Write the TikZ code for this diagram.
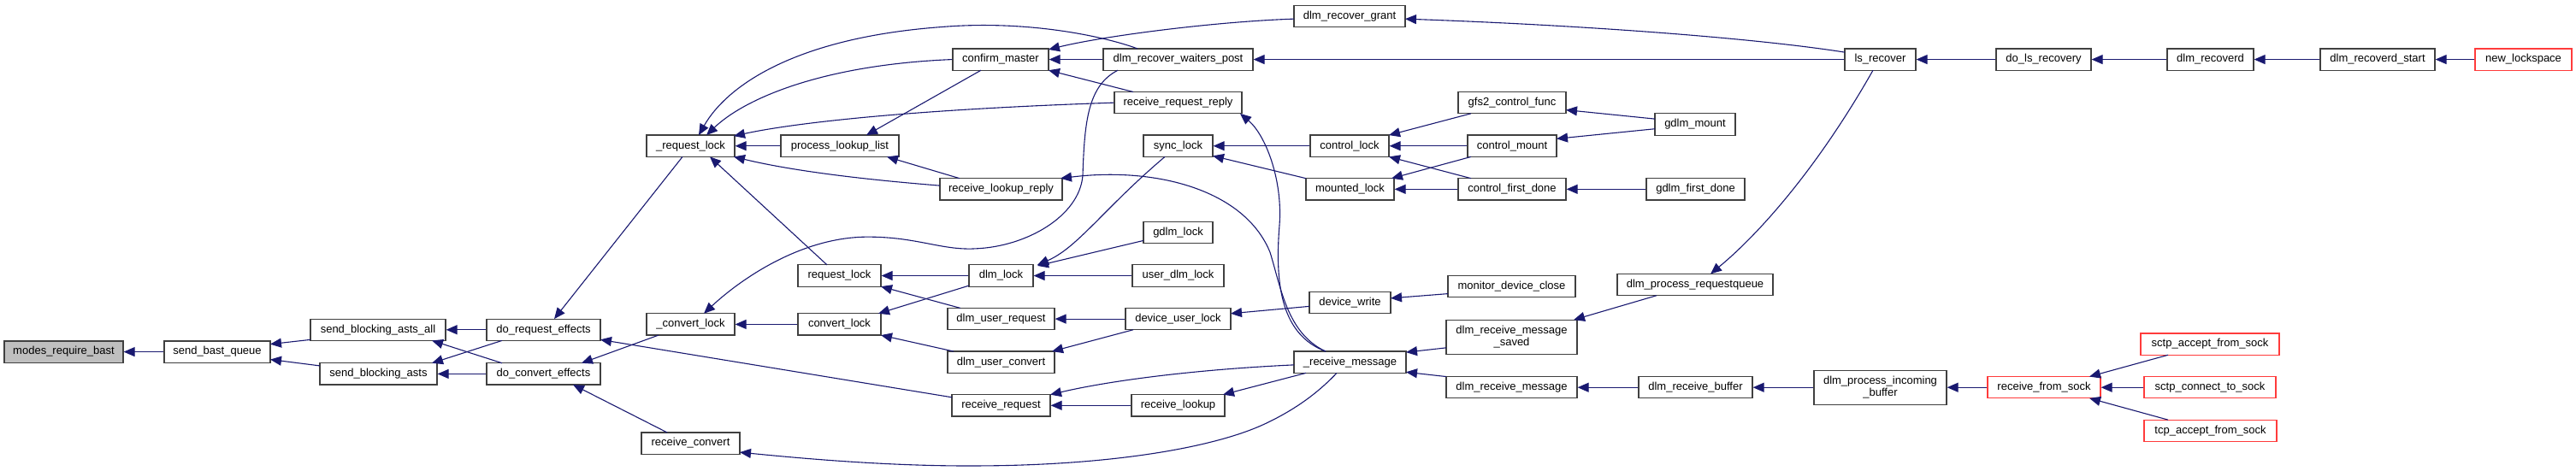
\documentclass[tikz,border=0pt]{standalone}
\usepackage{fontspec}
\setmainfont{Liberation Sans}
\usetikzlibrary{arrows.meta,calc}
\definecolor{edgec}{HTML}{191970}
\definecolor{boxc}{HTML}{404040}
\definecolor{redc}{HTML}{FF3B3B}
\definecolor{grayf}{HTML}{BFBFBF}
\begin{document}
\begin{tikzpicture}[x=1pt,y=-1.054pt,
  box/.style={draw=boxc, line width=1.2pt, fill=white, rectangle, inner sep=0pt,
    minimum height=25.3pt, font=\fontsize{13}{14.5}\selectfont, align=center},
  rbox/.style={box, draw=redc},
  edge/.style={draw=edgec, line width=1.1pt, arrows={Triangle[length=13pt,width=11pt]-}}]
\useasboundingbox (0,0) rectangle (3012,522.77);
% nodes
\node[box, fill=grayf, minimum width=139pt] (mrb) at (74.5,390.5) {modes\_require\_bast};
\node[box, minimum width=124pt] (sbq) at (254,390.5) {send\_bast\_queue};
\node[box, minimum width=158pt] (sbaa) at (442,366) {send\_blocking\_asts\_all};
\node[box, minimum width=137pt] (sba) at (442.5,415) {send\_blocking\_asts};
\node[box, minimum width=133pt] (dre) at (635.5,366) {do\_request\_effects};
\node[box, minimum width=133pt] (dce) at (635.5,415) {do\_convert\_effects};
\node[box, minimum width=103pt] (rql) at (807.5,162) {\_request\_lock};
\node[box, minimum width=103pt] (cvl) at (807.5,360) {\_convert\_lock};
\node[box, minimum width=115pt] (rcv) at (807.5,492) {receive\_convert};
\node[box, minimum width=138pt] (pll) at (982,162) {process\_lookup\_list};
\node[box, minimum width=97pt] (reql) at (981.5,306) {request\_lock};
\node[box, minimum width=97pt] (cnl) at (981.5,360) {convert\_lock};
\node[box, minimum width=112pt] (cm) at (1170,66) {confirm\_master};
\node[box, minimum width=175pt] (drwp) at (1377.5,66) {dlm\_recover\_waiters\_post};
\node[box, minimum width=149pt] (rrr) at (1377.5,114) {receive\_request\_reply};
\node[box, minimum width=81pt] (syl) at (1377.5,162) {sync\_lock};
\node[box, minimum width=143pt] (rlr) at (1170.5,210) {receive\_lookup\_reply};
\node[box, minimum width=81pt] (gdl) at (1377.5,258) {gdlm\_lock};
\node[box, minimum width=75pt] (dl) at (1170.5,306) {dlm\_lock};
\node[box, minimum width=107pt] (udl) at (1377.5,306) {user\_dlm\_lock};
\node[box, minimum width=125pt] (dur) at (1170.5,354) {dlm\_user\_request};
\node[box, minimum width=123pt] (dul) at (1377.5,354) {device\_user\_lock};
\node[box, minimum width=125pt] (duc) at (1170.5,402) {dlm\_user\_convert};
\node[box, minimum width=115pt] (rr) at (1170.5,450) {receive\_request};
\node[box, minimum width=109pt] (rl) at (1377.5,450) {receive\_lookup};
\node[box, minimum width=130pt] (drg) at (1578,18) {dlm\_recover\_grant};
\node[box, minimum width=126pt] (gcf) at (1768,114) {gfs2\_control\_func};
\node[box, minimum width=92pt] (cl) at (1578,162) {control\_lock};
\node[box, minimum width=104pt] (cmt) at (1768,162) {control\_mount};
\node[box, minimum width=94pt] (gm) at (1982,138) {gdlm\_mount};
\node[box, minimum width=103pt] (ml) at (1578.5,210) {mounted\_lock};
\node[box, minimum width=126pt] (cfd) at (1768,210) {control\_first\_done};
\node[box, minimum width=115pt] (gfd) at (1982.5,210) {gdlm\_first\_done};
\node[box, minimum width=149pt] (mdc) at (1767.5,318) {monitor\_device\_close};
\node[box, minimum width=95pt] (dw) at (1578.5,336) {device\_write};
\node[box, minimum width=182pt] (dprq) at (1982,316) {dlm\_process\_requestqueue};
\node[box, minimum width=153pt, minimum height=40pt] (drms) at (1767.5,374) {dlm\_receive\_message\\\_saved};
\node[box, minimum width=131pt] (rm) at (1578.5,402) {\_receive\_message};
\node[box, minimum width=153pt] (drm) at (1767.5,430) {dlm\_receive\_message};
\node[box, minimum width=133pt] (drb) at (1982.5,430) {dlm\_receive\_buffer};
\node[box, minimum width=83pt] (lsr) at (2198.5,66) {ls\_recover};
\node[box, minimum width=111pt] (dlr) at (2389.5,66) {do\_ls\_recovery};
\node[box, minimum width=155pt, minimum height=40pt] (dpib) at (2198.5,430) {dlm\_process\_incoming\\\_buffer};
\node[rbox, minimum width=132pt] (rfs) at (2390,430) {receive\_from\_sock};
\node[box, minimum width=101pt] (drd) at (2584.5,66) {dlm\_recoverd};
\node[box, minimum width=134pt] (drs) at (2780,66) {dlm\_recoverd\_start};
\node[rbox, minimum width=113pt] (nl) at (2950.5,66) {new\_lockspace};
\node[rbox, minimum width=162pt] (saf) at (2584,382) {sctp\_accept\_from\_sock};
\node[rbox, minimum width=154pt] (sct) at (2584,430) {sctp\_connect\_to\_sock};
\node[rbox, minimum width=155pt] (taf) at (2584.5,478) {tcp\_accept\_from\_sock};
% edges
\draw[edge] (mrb.east) -- (sbq.west);
\draw[edge] ($(sbq)+(62,-8.5)$) -- ($(sbaa)+(-79,11)$);
\draw[edge] ($(sbq)+(62,8.5)$) -- ($(sba)+(-68.5,-9)$);
\draw[edge] (sbaa.east) -- (dre.west);
\draw[edge] ($(sbaa)+(63,12)$) -- ($(dce)+(-48.5,-12)$);
\draw[edge] ($(sba)+(62.5,-12)$) -- ($(dre)+(-48.5,12)$);
\draw[edge] (sba.east) -- (dce.west);
\draw[edge] ($(dre)+(12.5,-12)$) -- ($(rql)+(-9.5,12)$);
\draw[edge] ($(dre)+(66.5,11)$) -- ($(rr)+(-57.5,-9)$);
\draw[edge] ($(dce)+(44.5,-12)$) -- ($(cvl)+(-37.5,12)$);
\draw[edge] ($(dce)+(34.5,12)$) -- ($(rcv)+(-27.5,-12)$);
\draw[edge] ($(rql)+(9.5,-12)$) .. controls (850,95) and (930,42) .. (1100,30) .. controls (1200,22) and (1290,40) .. ($(drwp)+(-47.5,-12)$);
\draw[edge] ($(rql)+(18.5,-12)$) .. controls (870,110) and (960,72) .. (cm.west);
\draw[edge] ($(rql)+(50.5,-11)$) .. controls (920,138) and (1050,122) .. (rrr.west);
\draw[edge] (rql.east) -- (pll.west);
\draw[edge] ($(rql)+(50.5,12)$) .. controls (910,186) and (980,197) .. ($(rlr)+(-71.5,-4)$);
\draw[edge] ($(rql)+(22.5,12)$) -- ($(reql)+(-14.5,-12)$);
\draw[edge] ($(cvl)+(15.5,-12)$) .. controls (860,315) and (930,265) .. (1010,263) .. controls (1070,262) and (1100,278) .. (1140,276) .. controls (1200,274) and (1262,240) .. (1266,195) .. controls (1268,135) and (1272,95) .. ($(drwp)+(-70.5,12)$);
\draw[edge] (cvl.east) -- (cnl.west);
\draw[edge] ($(pll)+(31,-12)$) -- ($(cm)+(-23,12)$);
\draw[edge] ($(pll)+(55,12)$) -- ($(rlr)+(-48.5,-12)$);
\draw[edge] ($(cm)+(56,-11)$) .. controls (1290,40) and (1420,24) .. ($(drg)+(-65,3)$);
\draw[edge] (cm.east) -- (drwp.west);
\draw[edge] ($(cm)+(56,12)$) -- ($(rrr)+(-52.5,-12)$);
\draw[edge] (reql.east) -- (dl.west);
\draw[edge] ($(reql)+(48.5,12)$) -- ($(dur)+(-47.5,-12)$);
\draw[edge] ($(cnl)+(45.5,-12)$) -- ($(dl)+(-37.5,11)$);
\draw[edge] ($(cnl)+(48.5,12)$) -- ($(duc)+(-55.5,-12)$);
\draw[edge] ($(rlr)+(69.5,-12)$) .. controls (1350,185) and (1455,210) .. (1485,280) .. controls (1498,320) and (1505,370) .. ($(rm)+(-28.5,-12)$);
\draw[edge] ($(rrr)+(72.5,12)$) .. controls (1480,150) and (1500,200) .. (1496,250) .. controls (1490,320) and (1500,372) .. ($(rm)+(-28.5,-12)$);
\draw[edge] ($(dl)+(42.5,-12)$) .. controls (1260,275) and (1290,232) .. ($(syl)+(-15.5,12)$);
\draw[edge] ($(dl)+(42.5,-11)$) -- ($(gdl)+(-40.5,9)$);
\draw[edge] (dl.east) -- (udl.west);
\draw[edge] (dur.east) -- (dul.west);
\draw[edge] ($(duc)+(59.5,-12)$) -- ($(dul)+(-52.5,12)$);
\draw[edge] (syl.east) -- (cl.west);
\draw[edge] ($(syl)+(40.5,11)$) -- ($(ml)+(-51.5,-12)$);
\draw[edge] ($(dul)+(61.5,-6)$) -- ($(dw)+(-47.5,4)$);
\draw[edge] ($(rr)+(57.5,-12)$) .. controls (1300,422) and (1400,410) .. ($(rm)+(-65.5,3)$);
\draw[edge] (rr.east) -- (rl.west);
\draw[edge] ($(rl)+(52.5,-12)$) -- ($(rm)+(-51.5,12)$);
\draw[edge] ($(rcv)+(57.5,10)$) .. controls (950,510) and (1050,518) .. (1150,517) .. controls (1300,516) and (1420,497) .. (1480,470) .. controls (1520,452) and (1545,432) .. ($(rm)+(-15.5,12)$);
\draw[edge] ($(drg)+(65,3)$) .. controls (1850,28) and (2050,42) .. ($(lsr)+(-41.5,-8)$);
\draw[edge] (drwp.east) -- (lsr.west);
\draw[edge] ($(cl)+(46,-12)$) -- ($(gcf)+(-48,12)$);
\draw[edge] (cl.east) -- (cmt.west);
\draw[edge] ($(cl)+(46,12)$) -- ($(cfd)+(-48,-12)$);
\draw[edge] ($(ml)+(48.5,-12)$) -- ($(cmt)+(-48,12)$);
\draw[edge] (ml.east) -- (cfd.west);
\draw[edge] ($(gcf)+(63,8)$) -- ($(gm)+(-47,-6)$);
\draw[edge] ($(cmt)+(52,-8)$) -- ($(gm)+(-47,5)$);
\draw[edge] (cfd.east) -- (gfd.west);
\draw[edge] ($(dw)+(47.5,-5)$) -- ($(mdc)+(-74.5,8)$);
\draw[edge] ($(rm)+(65.5,-11)$) -- ($(drms)+(-76.5,12)$);
\draw[edge] ($(rm)+(65.5,11)$) -- ($(drm)+(-76.5,-12)$);
\draw[edge] ($(drms)+(72.5,-19)$) -- ($(dprq)+(-45,12)$);
\draw[edge] ($(dprq)+(18,-12)$) .. controls (2050,265) and (2120,195) .. ($(lsr)+(-8.5,12)$);
\draw[edge] (drm.east) -- (drb.west);
\draw[edge] (drb.east) -- (dpib.west);
\draw[edge] (dpib.east) -- (rfs.west);
\draw[edge] ($(rfs)+(53,-12)$) -- ($(saf)+(-49,12)$);
\draw[edge] (rfs.east) -- (sct.west);
\draw[edge] ($(rfs)+(53,12)$) -- ($(taf)+(-49.5,-12)$);
\draw[edge] (lsr.east) -- (dlr.west);
\draw[edge] (dlr.east) -- (drd.west);
\draw[edge] (drd.east) -- (drs.west);
\draw[edge] (drs.east) -- (nl.west);
\end{tikzpicture}
\end{document}
